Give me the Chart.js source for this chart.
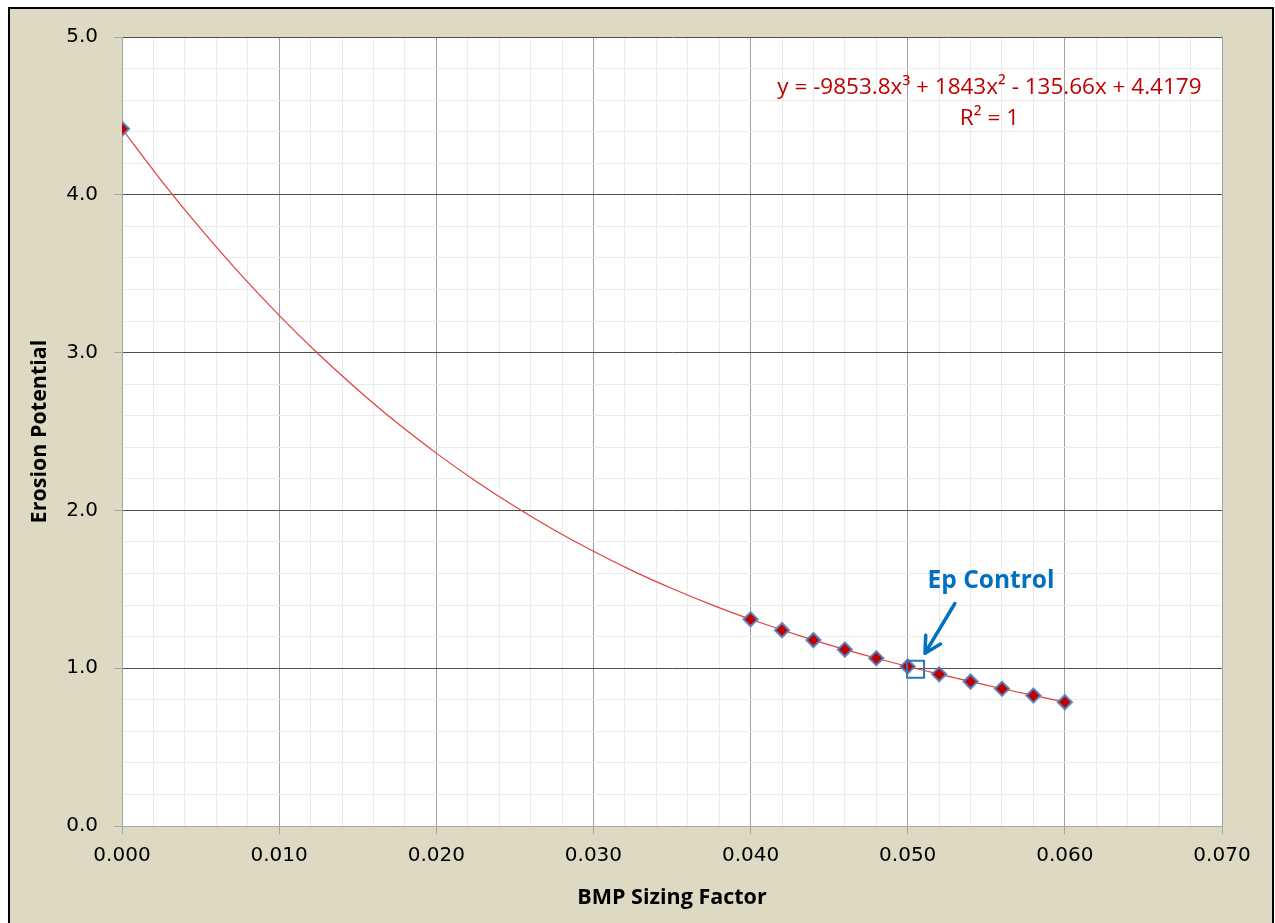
<!DOCTYPE html>
<html>
<head>
<meta charset="utf-8">
<script src="https://cdn.jsdelivr.net/npm/chart.js@4.4.1/dist/chart.umd.min.js"></script>
<style>
  html, body { margin: 0; padding: 0; background: #fff; overflow: hidden; }
  #frame {
    position: absolute; left: 8px; top: 7px;
    width: 1262px; height: 916px;
    border: 2px solid #000; border-bottom: none;
    background: #DDD9C3;
  }
  #chart { display: block; }
</style>
</head>
<body>
<div id="frame"><canvas id="chart" width="1262" height="916"></canvas></div>
<script>
// Erosion potential vs BMP sizing factor, with cubic trendline.
const sizingFactor = [0.000, 0.040, 0.042, 0.044, 0.046, 0.048, 0.050, 0.052, 0.054, 0.056, 0.058, 0.060];
const erosionPotential = [4.418, 1.310, 1.241, 1.178, 1.118, 1.063, 1.011, 0.962, 0.915, 0.870, 0.827, 0.785];

// trendline
const trendX = [0.000, 0.0025, 0.005, 0.0075, 0.010, 0.0125, 0.015, 0.0175, 0.020, 0.0225, 0.025,
  0.0275, 0.030, 0.0325, 0.035, 0.0375, 0.040, 0.044, 0.048, 0.052, 0.056, 0.060];
const trendY = [4.418, 4.090, 3.785, 3.500, 3.236, 2.991, 2.765, 2.555, 2.363, 2.186, 2.024,
  1.876, 1.741, 1.617, 1.505, 1.403, 1.310, 1.178, 1.063, 0.962, 0.870, 0.785];

const controlPoint = [0.0505, 0.994];

const xTicks = [0.000, 0.010, 0.020, 0.030, 0.040, 0.050, 0.060, 0.070];
const yTicks = [0.0, 1.0, 2.0, 3.0, 4.0, 5.0];

const equationText = 'y = -9853.8x³ + 1843x² - 135.66x + 4.4179';
const rSquaredText = 'R² = 1';
const calloutText = 'Ep Control';

const isMajorX = v => xTicks.some(t => Math.abs(t - v) < 1e-6);
const isMajorY = v => yTicks.some(t => Math.abs(t - v) < 1e-6);

const plotBg = {
  id: 'plotBg',
  beforeDraw(chart) {
    const { ctx, chartArea: a } = chart;
    ctx.save();
    ctx.fillStyle = '#ffffff';
    ctx.fillRect(a.left, a.top, a.right - a.left, a.bottom - a.top);
    ctx.restore();
  }
};

const notes = {
  id: 'notes',
  afterDraw(chart) {
    const { ctx } = chart;
    const x = chart.scales.x, y = chart.scales.y;
    ctx.save();
    // trendline equation
    ctx.fillStyle = '#C00000';
    ctx.font = '22.5px "Open Sans"';
    ctx.textAlign = 'center';
    ctx.textBaseline = 'middle';
    ctx.fillText(equationText, x.getPixelForValue(0.0552), y.getPixelForValue(4.68));
    ctx.fillText(rSquaredText, x.getPixelForValue(0.0552), y.getPixelForValue(4.48));

    // callout label + arrow
    ctx.fillStyle = '#0070C0';
    ctx.font = 'bold 24.5px "Open Sans"';
    ctx.fillText(calloutText, x.getPixelForValue(0.0553), y.getPixelForValue(1.55));

    const x0 = x.getPixelForValue(0.0530), y0 = y.getPixelForValue(1.41);
    const x1 = x.getPixelForValue(0.0511), y1 = y.getPixelForValue(1.095);
    const ang = Math.atan2(y1 - y0, x1 - x0);
    ctx.strokeStyle = '#0070C0';
    ctx.lineWidth = 3.5;
    ctx.lineCap = 'round';
    ctx.lineJoin = 'round';
    ctx.beginPath();
    ctx.moveTo(x0, y0);
    ctx.lineTo(x1, y1);
    ctx.moveTo(x1 - 18 * Math.cos(ang - 0.5), y1 - 18 * Math.sin(ang - 0.5));
    ctx.lineTo(x1, y1);
    ctx.lineTo(x1 - 18 * Math.cos(ang + 0.5), y1 - 18 * Math.sin(ang + 0.5));
    ctx.stroke();
    ctx.restore();
  }
};

new Chart(document.getElementById('chart'), {
  type: 'scatter',
  data: {
    datasets: [
      {
        label: 'Ep Control',
        data: [{ x: controlPoint[0], y: controlPoint[1] }],
        pointStyle: 'rect',
        pointRadius: 12,
        backgroundColor: 'rgba(0,0,0,0)',
        borderColor: '#2E75B6',
        borderWidth: 2,
        order: 0
      },
      {
        label: 'Erosion Potential',
        data: sizingFactor.map((v, i) => ({ x: v, y: erosionPotential[i] })),
        pointStyle: 'rectRot',
        pointRadius: 7,
        backgroundColor: '#C00000',
        borderColor: 'rgba(79,129,189,0.85)',
        borderWidth: 2.2,
        order: 1
      },
      {
        label: 'Trend',
        data: trendX.map((v, i) => ({ x: v, y: trendY[i] })),
        showLine: true,
        cubicInterpolationMode: 'monotone',
        borderColor: '#E0403A',
        borderWidth: 1.2,
        pointRadius: 0,
        order: 2
      }
    ]
  },
  options: {
    responsive: false,
    animation: false,
    events: [],
    layout: { padding: { top: 24, right: 50, left: 0, bottom: 0 } },
    plugins: { legend: { display: false }, tooltip: { enabled: false } },
    scales: {
      x: {
        type: 'linear',
        min: 0, max: 0.07,
        afterFit: s => { s.height = 99; },
        border: { color: '#A6A6A6', width: 1 },
        grid: {
          color: c => isMajorX(c.tick.value) ? '#A0A0A0' : '#EBEBEB',
          tickColor: c => isMajorX(c.tick.value) ? '#A6A6A6' : 'rgba(0,0,0,0)',
          tickLength: 8
        },
        ticks: {
          stepSize: 0.002,
          autoSkip: false,
          maxRotation: 0,
          padding: 10,
          color: '#000',
          font: { family: '"DejaVu Sans"', size: 20 },
          callback: v => isMajorX(v) ? v.toFixed(3) : ''
        },
        title: {
          display: true,
          text: 'BMP Sizing Factor',
          color: '#000',
          font: { family: '"Open Sans"', size: 21.5, weight: 'bold' },
          padding: { top: 0, bottom: 14 }
        }
      },
      y: {
        type: 'linear',
        min: 0, max: 5,
        afterFit: s => { s.width = 112; },
        border: { color: '#A6A6A6', width: 1 },
        grid: {
          color: c => isMajorY(c.tick.value) ? '#505050' : '#EBEBEB',
          tickColor: c => isMajorY(c.tick.value) ? '#A6A6A6' : 'rgba(0,0,0,0)',
          tickLength: 8
        },
        ticks: {
          stepSize: 0.2,
          autoSkip: false,
          padding: 16,
          color: '#000',
          font: { family: '"DejaVu Sans"', size: 20 },
          callback: v => isMajorY(v) ? v.toFixed(1) : ''
        },
        title: {
          display: true,
          text: 'Erosion Potential',
          color: '#000',
          font: { family: '"Open Sans"', size: 21.5, weight: 'bold' },
          padding: { top: 17, bottom: 0 }
        }
      }
    }
  },
  plugins: [plotBg, notes]
});
</script>
</body>
</html>
